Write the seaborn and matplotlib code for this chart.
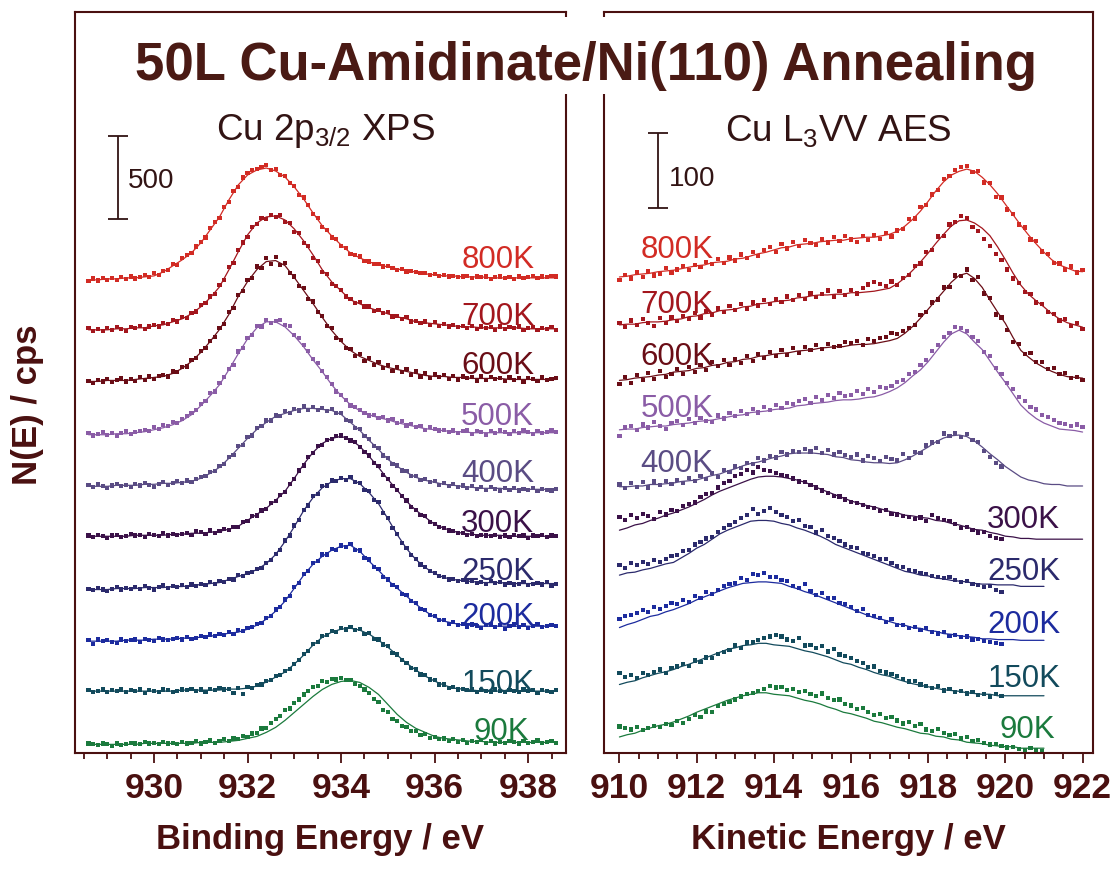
import numpy as np
import pandas as pd
import matplotlib.pyplot as plt
from matplotlib.patches import Rectangle
from matplotlib.ticker import MultipleLocator
import seaborn as sns

sns.set_theme(style='white')
plt.rcParams['font.family'] = ['Liberation Sans', 'DejaVu Sans']
plt.rcParams['mathtext.fontset'] = 'custom'
plt.rcParams['mathtext.rm'] = 'Liberation Sans'
plt.rcParams['mathtext.it'] = 'Liberation Sans:italic'
plt.rcParams['mathtext.bf'] = 'Liberation Sans:bold'

temps = ['800K', '700K', '600K', '500K', '400K', '300K', '250K', '200K', '150K', '90K']
colors = ['#d22b24', '#a3161d', '#6a0d16', '#8a5ca6', '#5a4c84',
          '#3b1148', '#2b2a6c', '#1c2b9e', '#124a5c', '#1b7a3d']
brown = '#4a1010'

# ---- Cu 2p3/2 XPS, cps above each spectrum's own baseline
# fitted curves: every 0.2 eV from 928.6 eV, data points: every 0.1 eV from 928.6 eV
xps_fit_800 = [0,0,6,6,12,12,18,24,48,84, 120,162,222,300,378,480,570,630,660,672, 654,618,558,486,402,324,264,210,162,132,
               108,90,78,66,54,48,36,30,24,24, 18,18,18,12,12,12,12,12,12,12, 12]
xps_fit_700 = [0,0,0,6,6,12,12,24,30,48, 66,96,138,192,258,360,468,570,642,678, 684,660,606,534,450,360,288,234,180,156,
               132,114,96,78,66,48,42,36,30,24, 18,18,12,12,12,12,12,6,6,6, 6]
xps_fit_600 = [0,0,6,6,6,12,18,24,30,48, 78,120,174,240,312,402,510,600,672,720, 726,696,624,546,468,384,306,240,186,150,
               126,102,84,72,60,48,36,30,30,24, 24,18,18,18,18,12,12,12,12,12, 12]
xps_fit_500 = [0,0,0,6,6,12,18,30,42,60, 84,120,174,234,300,390,486,576,642,678, 678,648,594,528,450,378,300,234,180,144,
               120,102,90,72,60,48,36,30,24,18, 18,12,12,12,12,12,12,12,12,12, 12]
xps_fit_400 = [0,0,0,6,6,6,12,12,18,18, 24,30,48,78,114,168,228,288,342,384, 420,438,456,468,468,462,456,432,384,336,
               276,222,162,120,84,54,36,24,12,6, 0,-6,-12,-12,-12,-18,-18,-18,-18,-18, -18]
xps_fit_300 = [0,0,0,0,0,6,6,6,6,12, 12,18,18,24,30,42,60,96,132,168, 216,270,348,432,504,558,588,600,582,540,
               480,414,342,276,210,156,114,72,48,30, 18,12,6,6,6,0,0,0,0,0, 0]
xps_fit_250 = [0,0,0,6,6,6,12,12,12,18, 18,24,30,36,42,60,78,96,120,156, 210,288,378,474,552,612,648,666,666,636,
               582,516,426,330,246,180,132,96,72,60, 54,48,42,42,42,36,36,36,36,36, 36]
xps_fit_200 = [0,0,0,0,6,6,6,12,12,12, 18,18,24,30,36,48,54,72,96,132, 180,240,318,396,462,510,546,570,576,540,
               480,426,366,318,270,222,180,144,120,108, 96,96,90,90,90,90,90,90,90,90, 90]
xps_fit_150 = [0,0,0,0,0,0,0,0,0,0, 6,6,6,6,6,12,12,18,30,54, 84,114,162,216,276,324,354,372,378,366,
               342,306,264,216,168,126,90,60,36,18, 12,6,0,0,0,0,0,0,0,0, 0]
xps_fit_90 = [0,0,0,0,0,0,6,6,6,6, 6,6,12,12,12,18,24,36,48,72, 102,144,192,240,288,330,360,378,384,372,
              342,300,240,180,132,96,72,48,36,30, 24,18,18,12,12,12,12,12,12,12, 12]

xps_pts_800 = [-6,8,-4,10,0,12,-2,15,6,20, 8,18,30,15,40,30,55,60,95,90, 130,150,160,200,230,255,310,350,370,440,
               470,535,560,615,640,660,665,680,690,660, 665,630,625,580,565,510,495,450,395,370,
               320,300,255,245,205,190,155,150,140,115, 110,95,95,80,85,70,60,65,50,55,
               45,40,40,30,35,25,30,20,25,15, 20,25,10,20,15,20,5,15,20,10, 15,5,20,10,15,25,10,20,15,25, 20]
xps_pts_700 = [10,-5,5,-8,12,0,15,5,-5,18, 10,25,5,20,30,20,40,35,60,50, 75,70,100,110,150,160,200,215,270,300,
               375,400,480,525,560,620,635,670,665,690, 680,690,650,640,590,580,520,505,430,415,
               345,335,275,265,240,200,185,160,165,140, 140,115,120,100,105,80,85,65,75,50,
               55,40,50,30,45,25,35,20,30,15, 25,10,25,5,20,10,15,0,20,5, 15,10,20,0,10,15,0,10,5,15, 0]
xps_pts_600 = [5,-8,10,0,15,-5,10,20,0,15, 5,25,10,30,15,35,40,30,60,55, 85,90,130,140,185,200,245,265,320,345,
               415,440,520,545,610,620,690,680,740,705, 745,700,710,650,630,575,560,495,480,415,
               395,335,320,260,250,200,195,155,165,125, 140,100,115,80,100,65,85,55,75,40,
               60,30,50,20,45,25,40,15,35,10, 30,20,25,5,30,10,25,15,20,5, 25,10,20,0,20,15,5,25,10,15, 20]
xps_pts_500 = [10,-5,5,15,0,10,-8,12,20,5, 15,20,30,20,45,35,60,50,75,70, 95,110,130,150,185,200,250,260,310,345,
               395,420,500,520,580,600,655,650,690,670, 685,690,660,655,600,580,540,505,455,430,
               385,345,305,260,240,210,175,165,150,130, 115,120,100,105,85,95,70,80,55,65,
               45,50,30,45,35,25,30,15,25,10, 20,25,5,20,15,0,20,10,25,15, 5,20,10,25,15,5,20,10,15,25, 15]
xps_pts_400 = [8,-5,12,0,-10,5,15,0,10,-5, 15,5,20,10,-5,15,25,10,20,30, 20,35,25,45,55,60,85,90,120,135,
               175,190,240,250,295,305,350,360,395,395, 425,420,450,440,465,455,480,460,475,460,
               470,450,465,440,440,400,390,350,345,300, 285,240,230,185,170,135,125,95,90,60,
               60,40,45,25,30,10,20,0,15,-5, 5,-10,0,-15,-5,-20,-5,-15,-25,-10, -20,-10,-25,-15,-20,-10,-30,-15,-20,-25, -15]
xps_pts_300 = [5,-5,10,0,-8,5,10,-5,0,15, 5,10,-5,15,10,0,20,5,15,10, 15,20,10,30,25,15,35,20,30,45,
               40,55,55,85,90,120,125,155,165,200, 210,250,265,315,345,395,425,475,500,540,
               550,580,585,600,605,590,575,565,535,505, 485,440,420,370,345,300,280,240,215,175,
               160,130,120,85,75,55,50,35,30,20, 20,10,15,0,10,5,0,10,-5,5, -5,10,0,5,-10,5,0,10,-5,5, 0]
xps_pts_250 = [5,-5,10,0,-10,5,15,0,10,5, 15,5,20,10,0,15,25,10,20,15, 25,15,30,20,35,25,45,35,50,45,
               65,60,85,80,100,105,125,130,160,175, 215,240,295,325,385,420,480,505,560,575,
               620,625,655,650,670,660,675,645,640,600, 590,540,525,460,430,370,335,280,250,205,
               185,150,135,110,100,80,75,60,65,50, 55,45,50,40,45,35,50,40,45,30, 40,30,35,45,25,35,40,30,45,20, 35]
xps_pts_200 = [5,-15,10,0,5,-5,-10,10,0,5, 10,-5,15,5,0,20,10,5,15,20, 10,25,15,20,30,25,40,30,45,35,
               55,45,65,60,80,85,105,110,140,150, 190,205,250,270,325,350,405,420,470,480,
               520,520,555,550,575,565,585,550,545,500, 490,445,435,385,370,335,325,285,275,240,
               230,195,185,155,150,125,125,105,115,95, 105,85,100,90,80,95,100,85,95,75, 90,100,85,95,80,90,105,85,90,95, 90]
xps_pts_150 = [5,-5,0,10,-5,5,0,10,-5,5, 0,10,-10,5,0,-5,10,5,-5,0, 10,5,15,0,10,-5,15,5,20,10,
               15,-10,20,-15,25,20,35,40,60,65, 90,95,120,135,165,185,225,240,285,295,
               330,335,360,355,380,370,385,365,375,345, 350,315,310,280,270,230,220,185,170,140,
               130,100,95,70,65,40,40,20,25,10, 15,5,10,-5,5,0,-5,10,0,-5, 5,0,-5,10,0,5,-10,5,0,-5, 5]
xps_pts_90 = [5,0,-5,5,0,-10,5,-5,0,10, 5,0,15,5,10,0,15,5,10,0, 15,5,10,20,5,15,25,10,20,30,
              20,35,30,50,45,65,70,95,100,130, 150,170,205,215,250,270,300,320,345,350,
              380,375,395,390,400,385,385,365,350,330, 310,275,255,205,195,150,140,110,105,80,
              80,55,60,40,45,30,35,20,30,15, 25,10,20,15,25,10,20,5,15,10, 20,15,5,20,10,15,25,10,15,20, 10]

# ---- Cu L3VV AES, cps above each spectrum's own left end
# fitted curves: every 0.2 eV from 910 eV, data points: every 0.15 eV from 910 eV
aes_fit_800 = [0,1,3,4,5,7,8,9,11,13, 15,16,19,20,21,24,25,28,31,33, 36,39,40,43,44,45,47,48,49,49,
               51,52,53,53,55,57,61,68,77,88, 101,115,127,136,141,144,141,133,123,111, 97,83,69,56,44,33,23,16,12,8, 7]
aes_fit_700 = [0,1,1,3,4,4,5,7,8,11, 12,15,16,19,20,21,24,25,28,29, 31,32,33,36,37,39,40,40,41,41,
               43,43,44,45,47,49,55,63,73,84, 96,109,121,132,139,140,136,129,119,104, 87,69,53,41,32,24,15,8,3,0, -3]
aes_fit_600 = [0,1,3,4,5,7,8,11,12,13, 16,17,20,21,24,25,28,29,32,33, 35,36,37,39,40,41,43,44,45,45,
               47,48,48,49,51,53,56,63,72,83, 95,107,119,131,140,143,136,124,107,91, 76,57,40,31,23,17,12,8,5,4, 3]
aes_fit_500 = [0,1,1,3,4,5,5,7,8,9, 11,12,13,15,17,19,20,23,24,25, 27,28,29,32,33,35,36,37,39,40,
               40,41,43,44,47,51,56,63,72,80, 91,104,117,128,133,128,117,107,92,77, 63,48,33,23,15,9,5,1,0,-1, -3]
aes_fit_400 = [0,0,1,1,3,3,4,5,7,8, 9,12,15,17,21,24,28,31,33,36, 39,41,44,45,45,45,44,43,40,39,
               36,35,33,32,32,31,32,36,41,47, 53,60,65,68,69,67,61,53,44,36, 27,20,13,9,7,4,3,3,1,1, 1]
aes_fit_300 = [0,3,7,9,13,16,20,23,27,31, 36,41,47,52,56,60,64,68,71,72, 72,71,69,67,64,60,55,51,47,43,
               39,36,33,31,28,25,23,20,19,17, 16,13,12,9,7,4,1,0,-3,-5, -8,-9,-11,-11,-12,-12,-12,-12,-12,-12, -12]
aes_fit_250 = [0,3,4,7,9,12,15,17,23,29, 36,41,48,55,60,64,68,72,73,73, 72,69,67,63,60,56,52,47,41,37,
               33,29,25,21,17,13,9,5,3,0, -1,-4,-5,-7,-8,-9,-11,-12,-12,-13, -13,-13,-15,-15,-15,-15]
aes_fit_200 = [0,4,7,11,15,17,21,24,28,32, 37,41,45,49,53,56,59,60,61,61, 60,59,55,52,48,45,41,37,33,29,
               25,21,17,13,11,8,5,3,0,-1, -4,-5,-8,-9,-11,-12,-13,-15,-15,-16, -16,-16,-17,-17,-17,-17]
aes_fit_150 = [0,3,5,9,12,15,17,20,24,27, 31,35,39,43,47,49,52,53,55,55, 53,52,51,48,45,43,40,37,33,29,
               27,23,20,16,13,11,7,4,1,-1, -3,-5,-7,-8,-9,-11,-12,-13,-13,-15, -15,-15,-15,-15,-15,-15]
aes_fit_90 = [0,3,5,9,12,15,17,20,24,28, 33,37,41,45,49,52,55,57,59,59, 57,56,55,52,49,47,44,40,37,33,
              31,28,25,21,19,16,13,11,8,5, 4,1,0,-3,-4,-7,-8,-9,-11,-12, -13,-13,-15,-15,-15,-15]

aes_pts_800 = [-4,3,-2,6,0,8,2,4,12,6, 10,15,9,16,13,20,17,24,19,26, 22,30,25,33,28,36,40,33,44,38,
               47,41,49,45,43,51,46,53,48,55, 50,47,55,49,56,51,59,54,62,64, 77,78,93,96,110,116,131,135,143,147,
               148,140,141,126,125,107,106,90,84,70, 66,50,48,34,31,19,18,10,14,6, 9]
aes_pts_700 = [3,-3,6,0,8,2,-2,9,3,10, 5,12,8,16,10,19,14,22,17,25, 20,28,22,30,26,33,28,35,31,38,
               33,40,35,42,37,41,46,38,45,40, 47,42,49,54,57,55,52,58,53,63, 67,79,82,97,100,118,119,134,137,145,
               143,131,125,115,105,95,87,74,62,56, 44,41,30,28,17,15,6,8,-2,3, -5]
aes_pts_600 = [-5,4,-3,7,0,10,2,12,4,9, 15,8,18,11,21,14,24,19,27,20, 29,23,32,26,35,30,38,32,40,34,
               43,36,45,40,47,42,49,44,46,51, 50,53,47,55,52,57,58,63,62,66, 70,74,87,91,104,108,124,125,140,139,
               148,134,138,116,110,88,84,67,51,48, 35,37,24,25,15,16,9,10,3,5, 0]
aes_pts_500 = [-8,3,5,0,7,3,10,5,1,9, 12,6,14,9,16,12,10,19,15,22, 18,25,21,28,23,30,26,33,29,36,
               34,38,41,36,44,40,47,43,49,45, 47,52,48,55,51,57,56,58,64,66, 74,77,86,93,105,113,124,129,137,136,
               132,124,119,104,98,82,75,62,55,44, 38,30,27,20,17,13,9,8,5,7, 4]
aes_pts_400 = [3,-2,5,0,6,-1,7,2,8,4, 9,5,12,8,14,10,18,13,22,20, 27,25,32,30,38,35,41,39,46,43,
               48,46,50,47,52,45,49,43,46,42, 40,43,35,41,38,34,40,37,35,44, 38,46,45,55,59,60,71,68,72,66,
               70,62,60,48,40,32,27]
aes_pts_300 = [18,14,20,16,22,19,15,24,21,27, 26,32,35,37,44,48,50,57,63,66, 72,75,80,77,84,80,79,76,74,72,
               69,65,64,60,57,53,50,46,45,41, 38,36,34,31,30,26,27,22,21,19, 18,15,17,12,20,16,14,12,8,3,
               4,0,-3,-2,-8,-10,-12]
aes_pts_250 = [13,10,16,13,18,15,20,17,22,26, 27,32,34,41,44,49,51,58,63,67, 71,76,80,88,82,86,90,84,80,78,
               72,74,66,64,57,60,52,50,46,41, 38,36,30,28,26,21,22,16,12,11, 7,5,3,1,-1,-2,-4,-3,-7,-9,
               -8,-12,-13,-16,-15,-20,-22]
aes_pts_200 = [12,15,17,20,23,21,27,25,29,33, 31,37,34,42,39,47,45,50,55,58, 60,66,64,72,70,73,68,67,63,62,
               55,53,58,49,44,46,39,40,33,31, 28,22,25,17,15,13,8,11,4,3, 0,1,-3,-1,-6,-8,-6,-11,-10,-13,
               -12,-16,-15,-18,-19,-21,-22]
aes_pts_150 = [15,10,13,9,15,13,17,20,15,22, 24,27,25,32,30,36,35,41,43,46, 52,49,56,57,59,62,64,66,64,60,
               58,62,52,53,49,51,44,47,40,38, 35,31,29,23,24,18,16,14,11,7, 4,5,0,-2,-5,-2,-8,-6,-10,-9,
               -12,-10,-14,-13,-16,-13,-15]
aes_pts_90 = [14,12,10,13,9,12,15,13,17,16, 21,19,24,29,27,34,33,41,44,47, 50,54,57,59,61,64,68,66,67,63,
              64,60,61,57,55,58,52,49,50,44, 42,37,39,33,29,31,25,27,22,18, 20,15,17,10,8,11,5,3,4,-2,
              0,-5,-4,-8,-10,-9,-12,-14,-13,-16, -17,-15,-18,-19]

xps_fit = [xps_fit_800, xps_fit_700, xps_fit_600, xps_fit_500, xps_fit_400,
           xps_fit_300, xps_fit_250, xps_fit_200, xps_fit_150, xps_fit_90]
xps_pts = [xps_pts_800, xps_pts_700, xps_pts_600, xps_pts_500, xps_pts_400,
           xps_pts_300, xps_pts_250, xps_pts_200, xps_pts_150, xps_pts_90]
aes_fit = [aes_fit_800, aes_fit_700, aes_fit_600, aes_fit_500, aes_fit_400,
           aes_fit_300, aes_fit_250, aes_fit_200, aes_fit_150, aes_fit_90]
aes_pts = [aes_pts_800, aes_pts_700, aes_pts_600, aes_pts_500, aes_pts_400,
           aes_pts_300, aes_pts_250, aes_pts_200, aes_pts_150, aes_pts_90]

# stacking offsets (cps) and label positions
xps_offsets = [2840, 2540, 2230, 1910, 1600, 1300, 980, 670, 370, 50]
aes_offsets = [635, 571, 497, 431, 355, 297, 237, 167, 91, 21]
xps_label_y = [2910, 2568, 2274, 1968, 1626, 1326, 1038, 768, 366, 78]
aes_label_y = [660, 587, 517, 448, 375, 300, 231, 160, 88, 20]


def stack(arrays, start, step, offsets):
    frames = []
    for t, vals, off in zip(temps, arrays, offsets):
        e = start + step * np.arange(len(vals))
        frames.append(pd.DataFrame({'E': e, 'N': np.asarray(vals, float) + off, 'T': t}))
    return pd.concat(frames, ignore_index=True)


pal = dict(zip(temps, colors))
W, H = 1117, 872
fig = plt.figure(figsize=(W / 100, H / 100), dpi=100)
ax1 = fig.add_axes([75 / W, 1 - 752.7 / H, (566 - 75) / W, 740.2 / H])
ax2 = fig.add_axes([604 / W, 1 - 752.7 / H, (1093 - 604) / W, 740.2 / H])

for ax, fit, pts, f0, fs, p0, ps, offs in [
        (ax1, xps_fit, xps_pts, 928.6, 0.2, 928.6, 0.1, xps_offsets),
        (ax2, aes_fit, aes_pts, 910.0, 0.2, 910.0, 0.15, aes_offsets)]:
    fit_df = stack(fit, f0, fs, offs)
    pts_df = stack(pts, p0, ps, offs)
    sns.lineplot(data=fit_df, x='E', y='N', hue='T', palette=pal, estimator=None,
                 lw=0.9, legend=False, ax=ax)
    sns.scatterplot(data=pts_df, x='E', y='N', hue='T', palette=pal, marker='s',
                    s=9, linewidth=0, legend=False, ax=ax)

ax1.set_xlim(928.31, 938.81)
ax1.set_ylim(0, 4446)
ax2.set_xlim(909.60, 922.27)
ax2.set_ylim(0, 988)

for ax in (ax1, ax2):
    ax.set_yticks([])
    ax.set_ylabel('')
    ax.xaxis.set_major_locator(MultipleLocator(2))
    ax.xaxis.set_minor_locator(MultipleLocator(0.5))
    ax.tick_params(axis='x', which='both', direction='out', bottom=True, color=brown,
                   width=1.3, labelsize=25.5, labelcolor=brown, pad=7)
    ax.tick_params(axis='x', which='major', length=7)
    ax.tick_params(axis='x', which='minor', length=4)
    for lab in ax.get_xticklabels():
        lab.set_fontweight('bold')
    for sp in ax.spines.values():
        sp.set_color(brown)
        sp.set_linewidth(1.5)

ax1.set_xlabel('Binding Energy / eV', fontsize=25, fontweight='bold', color=brown, labelpad=13)
ax2.set_xlabel('Kinetic Energy / eV', fontsize=25, fontweight='bold', color=brown, labelpad=13)
fig.text(28 / W, 1 - 405 / H, 'N(E) / cps', rotation=90, ha='center', va='center',
         fontsize=25, fontweight='bold', color=brown)

# temperature labels
for i, t in enumerate(temps):
    ax1.text(938.03 if t == '90K' else 938.13, xps_label_y[i], t, ha='right', va='baseline',
             fontsize=22.5, color=colors[i])
    if i < 5:
        ax2.text(910.54, aes_label_y[i], t, ha='left', va='baseline', fontsize=22.5, color=colors[i])
    else:
        ax2.text(921.3 if t == '90K' else 921.42, aes_label_y[i], t, ha='right', va='baseline',
                 fontsize=22.5, color=colors[i])

# panel headings and scale bars
dark = '#321414'
ax1.text(933.66, 3678, 'Cu 2p$_{\\mathrm{3/2}}$ XPS', ha='center', va='baseline', fontsize=26.5, color=dark)
ax2.text(915.67, 817, 'Cu L$_{\\mathrm{3}}$VV AES', ha='center', va='baseline', fontsize=26.5, color=dark)
ax1.errorbar(929.23, 3454, yerr=250, color=dark, capsize=7.2, capthick=1.3, elinewidth=1.3)
ax1.text(929.45, 3390, '500', fontsize=20, color=dark, va='baseline')
ax2.errorbar(911.0, 777, yerr=50, color=dark, capsize=7.2, capthick=1.3, elinewidth=1.3)
ax2.text(911.27, 757, '100', fontsize=20, color=dark, va='baseline')

# title over the gap between the panels
fig.patches.append(Rectangle((530 / W, 1 - 94 / H), 110 / W, 77 / H, transform=fig.transFigure,
                             facecolor='white', edgecolor='none', zorder=3))
fig.text(586 / W, 1 - 80 / H, '50L Cu-Amidinate/Ni(110) Annealing', ha='center', va='baseline',
         fontsize=38, fontweight='bold', color='#4a1a14', zorder=4)

fig.savefig('out.png', dpi=100)
